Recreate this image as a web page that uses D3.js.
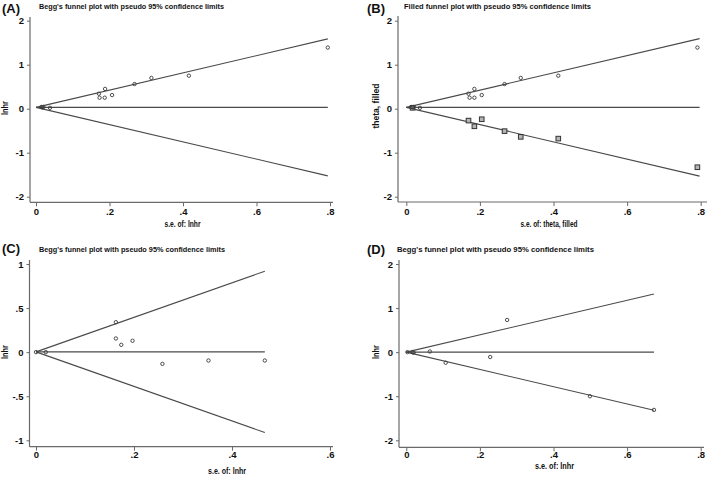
<!DOCTYPE html>
<html>
<head>
<meta charset="utf-8">
<script src="https://cdn.jsdelivr.net/npm/d3@7"></script>
<style>
  html, body { margin: 0; padding: 0; background: #fff; }
  svg { display: block; }
  text { font-family: "Liberation Sans", Arial, sans-serif; fill: #111; }
</style>
</head>
<body>
<svg id="chart" width="709" height="481"></svg>
<script>
// ---------- DATA ----------
// Panel A (Begg's funnel, lnhr)
const seA    = [0.015, 0.018, 0.020, 0.038, 0.171, 0.173, 0.187, 0.188, 0.207, 0.268, 0.314, 0.416, 0.794];
const lnhrA  = [0.04, 0.03, 0.04, 0.02, 0.34, 0.25, 0.25, 0.45, 0.31, 0.56, 0.70, 0.75, 1.39];
const pooledA = 0.03;
// Panel B (filled funnel: observed + imputed)
const seBobs    = [0.015, 0.018, 0.020, 0.037, 0.169, 0.172, 0.185, 0.185, 0.205, 0.267, 0.311, 0.413, 0.791];
const thetaBobs = [0.04, 0.03, 0.04, 0.02, 0.34, 0.25, 0.25, 0.45, 0.31, 0.56, 0.70, 0.75, 1.39];
const seBfill    = [0.017, 0.169, 0.185, 0.205, 0.267, 0.311, 0.413, 0.791];
const thetaBfill = [0.02, -0.27, -0.40, -0.24, -0.51, -0.64, -0.68, -1.33];
const pooledB = 0.03;
// Panel C
const seC   = [0.000, 0.020, 0.163, 0.163, 0.174, 0.197, 0.258, 0.352, 0.467];
const lnhrC = [0.00, 0.00, 0.34, 0.155, 0.083, 0.129, -0.133, -0.095, -0.095];
const pooledC = 0.003;
// Panel D
const seD   = [0.003, 0.017, 0.020, 0.064, 0.107, 0.228, 0.274, 0.499, 0.673];
const lnhrD = [0.00, 0.00, -0.01, 0.015, -0.24, -0.11, 0.73, -1.00, -1.31];
const pooledD = 0.0;

const ticksY4 = [-2, -1, 0, 1, 2];
const ticksY2 = [-1, -0.5, 0, 0.5, 1];
const ticksX8 = [0, 0.2, 0.4, 0.6, 0.8];
const ticksX6 = [0, 0.2, 0.4, 0.6];

const panelLabels = ["(A)", "(B)", "(C)", "(D)"];
const titles = [
  "Begg's funnel plot with pseudo 95% confidence limits",
  "Filled funnel plot with pseudo 95% confidence limits",
  "Begg's funnel plot with pseudo 95% confidence limits",
  "Begg's funnel plot with pseudo 95% confidence limits"
];
const xTitles = ["s.e. of: lnhr", "s.e. of: theta, filled", "s.e. of: lnhr", "s.e. of: lnhr"];
const yTitles = ["lnhr", "theta, filled", "lnhr", "lnhr"];

// ---------- FORMAT ----------
const fmt = v => {
  if (v === 0) return "0";
  let s = String(+v.toFixed(2));
  return s.replace(/^0\./, ".").replace(/^-0\./, "-.");
};

// ---------- LAYOUT ----------
const panels = [
  { label: panelLabels[0], title: titles[0], xt: xTitles[0], yt: yTitles[0],
    xDom: [0, 0.8], xR: [36, 330], yDom: [-2, 2], yR: [196.7, 20.7],
    yAxisX: 30, xAxisY: 202.3, yTop: 17, xEnd: 333, xTicks: ticksX8, yTicks: ticksY4,
    tickBase: 13, labelPos: [2, 12.5], titlePos: [39, 8.5], titleW: 185,
    xtPos: [182.5, 227], xtW: 36, ytPos: [8.3, 108], ytW: 14,
    obs: [seA, lnhrA], fill: null, pooled: pooledA, seMax: 0.794 },
  { label: panelLabels[1], title: titles[1], xt: xTitles[1], yt: yTitles[1],
    xDom: [0, 0.8], xR: [406.3, 700.7], yDom: [-2, 2], yR: [196.7, 20.7],
    yAxisX: 398, xAxisY: 202, yTop: 16, xEnd: 707, xTicks: ticksX8, yTicks: ticksY4,
    tickBase: 13, labelPos: [367, 12.5], titlePos: [404, 8.5], titleW: 187,
    xtPos: [549, 227], xtW: 57, ytPos: [379, 106], ytW: 45,
    obs: [seBobs, thetaBobs], fill: [seBfill, thetaBfill], pooled: pooledB, seMax: 0.797 },
  { label: panelLabels[2], title: titles[2], xt: xTitles[2], yt: yTitles[2],
    xDom: [0, 0.6], xR: [36, 330], yDom: [-1, 1], yR: [440.3, 264],
    yAxisX: 29.5, xAxisY: 446.7, yTop: 260, xEnd: 333, xTicks: ticksX6, yTicks: ticksY2,
    tickBase: 11.3, labelPos: [2, 253], titlePos: [39, 252], titleW: 186,
    xtPos: [227, 473.5], xtW: 38, ytPos: [8.3, 352], ytW: 14,
    obs: [seC, lnhrC], fill: null, pooled: pooledC, seMax: 0.467 },
  { label: panelLabels[3], title: titles[3], xt: xTitles[3], yt: yTitles[3],
    xDom: [0, 0.8], xR: [406.3, 700.7], yDom: [-2, 2], yR: [440.3, 264],
    yAxisX: 399, xAxisY: 447.3, yTop: 260, xEnd: 704, xTicks: ticksX8, yTicks: ticksY4,
    tickBase: 11, labelPos: [367, 254], titlePos: [397, 251.5], titleW: 197,
    xtPos: [554.5, 468.5], xtW: 39, ytPos: [379, 352], ytW: 14,
    obs: [seD, lnhrD], fill: null, pooled: pooledD, seMax: 0.673 }
];

const svg = d3.select("#chart");
const AXIS = "#6a6a6a", LINE = "#4a4a4a", MARK = "#3a3a3a";

panels.forEach(p => {
  const g = svg.append("g");
  const x = d3.scaleLinear().domain(p.xDom).range(p.xR);
  const y = d3.scaleLinear().domain(p.yDom).range(p.yR);

  // axis lines
  g.append("line").attr("x1", p.yAxisX).attr("x2", p.yAxisX)
    .attr("y1", p.yTop).attr("y2", p.xAxisY)
    .attr("stroke", AXIS).attr("stroke-width", 1.2);
  g.append("line").attr("x1", p.yAxisX).attr("x2", p.xEnd)
    .attr("y1", p.xAxisY).attr("y2", p.xAxisY)
    .attr("stroke", AXIS).attr("stroke-width", 1.2);

  // y axis ticks
  const yAx = g.append("g").attr("transform", `translate(${p.yAxisX},0)`)
    .call(d3.axisLeft(y).tickValues(p.yTicks).tickFormat(fmt).tickSize(3).tickPadding(3));
  yAx.select(".domain").remove();
  yAx.selectAll(".tick line").attr("stroke", AXIS).attr("stroke-width", 1);
  yAx.selectAll(".tick text").attr("font-size", 9.5).attr("font-weight", 700)
    .attr("font-family", "'Liberation Sans', Arial, sans-serif").attr("fill", "#111");

  // x axis ticks
  const xAx = g.append("g").attr("transform", `translate(0,${p.xAxisY})`)
    .call(d3.axisBottom(x).tickValues(p.xTicks).tickFormat(fmt).tickSize(4));
  xAx.select(".domain").remove();
  xAx.selectAll(".tick line").attr("stroke", AXIS).attr("stroke-width", 1);
  xAx.selectAll(".tick text").attr("font-size", 9.5).attr("font-weight", 700)
    .attr("font-family", "'Liberation Sans', Arial, sans-serif").attr("fill", "#111")
    .attr("y", p.tickBase).attr("dy", null);

  // funnel lines (pseudo 95% limits) and pooled line
  const seGrid = [0, p.seMax];
  const lineGen = d3.line().x(d => x(d[0])).y(d => y(d[1]));
  const upper = seGrid.map(s => [s, p.pooled + 1.96 * s]);
  const lower = seGrid.map(s => [s, p.pooled - 1.96 * s]);
  const mid = seGrid.map(s => [s, p.pooled]);
  [upper, lower, mid].forEach(L => {
    g.append("path").attr("d", lineGen(L)).attr("fill", "none")
      .attr("stroke", LINE).attr("stroke-width", 1.1);
  });

  // filled (imputed) points as squares
  if (p.fill) {
    const fd = p.fill[0].map((s, i) => [s, p.fill[1][i]]);
    g.selectAll("rect.fill").data(fd).enter().append("rect")
      .attr("x", d => x(d[0]) - 2.3).attr("y", d => y(d[1]) - 2.3)
      .attr("width", 4.6).attr("height", 4.6)
      .attr("fill", "#b5b5b5").attr("stroke", "#333").attr("stroke-width", 1);
  }

  // observed points as hollow circles
  const od = p.obs[0].map((s, i) => [s, p.obs[1][i]]);
  g.selectAll("circle.obs").data(od).enter().append("circle")
    .attr("cx", d => x(d[0])).attr("cy", d => y(d[1])).attr("r", 1.7)
    .attr("fill", "none").attr("stroke", MARK).attr("stroke-width", 0.9);

  // panel label
  g.append("text").attr("x", p.labelPos[0]).attr("y", p.labelPos[1])
    .attr("font-size", 13).attr("font-weight", 700).text(p.label);

  // title
  g.append("text").attr("x", p.titlePos[0]).attr("y", p.titlePos[1])
    .attr("font-size", 8).attr("font-weight", 700)
    .attr("textLength", p.titleW).attr("lengthAdjust", "spacingAndGlyphs")
    .text(p.title);

  // x axis title
  g.append("text").attr("x", p.xtPos[0] - p.xtW / 2).attr("y", p.xtPos[1])
    .attr("font-size", 8.5).attr("font-weight", 700)
    .attr("textLength", p.xtW).attr("lengthAdjust", "spacingAndGlyphs")
    .text(p.xt);

  // y axis title
  g.append("text")
    .attr("transform", `translate(${p.ytPos[0]},${p.ytPos[1] + p.ytW / 2}) rotate(-90)`)
    .attr("font-size", 8.5).attr("font-weight", 700)
    .attr("textLength", p.ytW).attr("lengthAdjust", "spacingAndGlyphs")
    .text(p.yt);
});
</script>
</body>
</html>
